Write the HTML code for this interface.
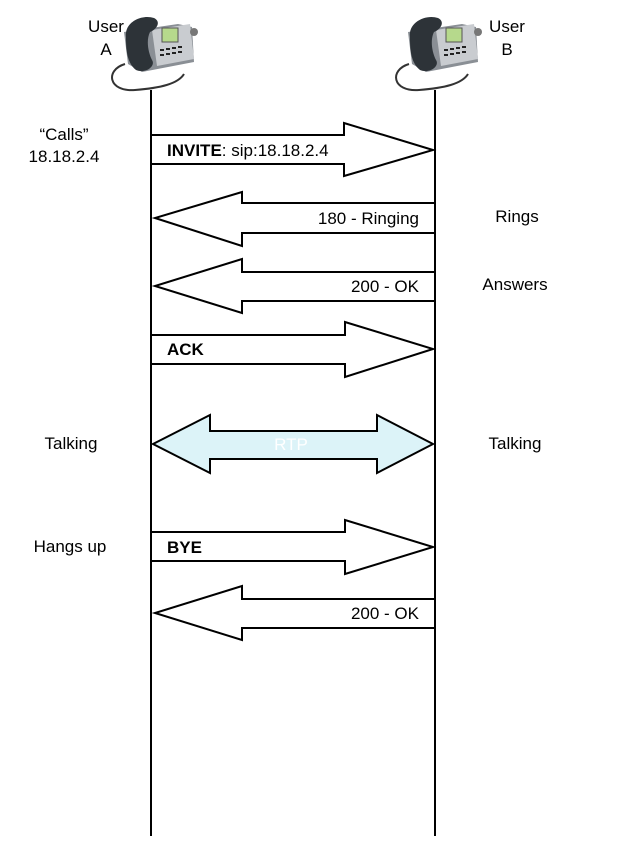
<!DOCTYPE html>
<html><head><style>
body{margin:0;background:#fff;}
svg{display:block;font-family:"Liberation Sans",Arial,sans-serif;}
</style></head><body>
<svg width="625" height="846" viewBox="0 0 625 846">
<defs>
<g id="phone">
<path d="M5 52 C-15 58 -12 80 15 78 C40 76 58 72 64 62" fill="none" stroke="#333" stroke-width="2"/>
<path d="M4 20 L58 12 L72 15 L74 50 L22 60 L8 52 Z" fill="#8a8f95"/>
<path d="M32 18 L70 12 L74 47 L37 54 Z" fill="#c9ccd0"/>
<rect x="42" y="16" width="16" height="14" fill="#b6d98c" stroke="#555"/>
<g fill="#222"><rect x="40" y="37" width="4" height="2"/><rect x="46" y="36" width="4" height="2"/><rect x="52" y="35" width="4" height="2"/><rect x="58" y="34" width="4" height="2"/><rect x="40" y="42" width="4" height="2"/><rect x="46" y="41" width="4" height="2"/><rect x="52" y="40" width="4" height="2"/><rect x="58" y="39" width="4" height="2"/></g>
<path d="M6 25 C4 10 22 2 34 6 C42 10 36 18 30 20 C26 28 28 40 32 48 C36 54 26 62 16 58 C6 50 6 35 6 25 Z" fill="#2d3338"/>
<circle cx="74" cy="20" r="4" fill="#777"/>
</g>
</defs>
<use href="#phone" x="120" y="12"/>
<use href="#phone" x="404" y="12"/>
<g font-size="17" text-anchor="middle" fill="#000">
<text x="106" y="32">User</text><text x="106" y="55">A</text>
<text x="507" y="32">User</text><text x="507" y="55">B</text>
</g>
<line x1="151" y1="90" x2="151" y2="836" stroke="#000" stroke-width="2"/>
<line x1="435" y1="90" x2="435" y2="836" stroke="#000" stroke-width="2"/>
<g fill="#fff" stroke="#000" stroke-width="2" stroke-linejoin="miter">
<polygon points="151,135 344,135 344,123 433,150 344,176 344,164 151,164"/>
<polygon points="435,203 242,203 242,192 155,218 242,246 242,233 435,233"/>
<polygon points="435,272 242,272 242,259 155,286 242,313 242,301 435,301"/>
<polygon points="151,335 345,335 345,322 433,349 345,377 345,364 151,364"/>
<polygon points="153,444 210,415 210,431 377,431 377,415 433,444 377,473 377,459 210,459 210,473" fill="#dcf3f8"/>
<polygon points="151,532 345,532 345,520 433,547 345,574 345,561 151,561"/>
<polygon points="435,599 242,599 242,586 155,613 242,640 242,628 435,628"/>
</g>
<g font-size="17" fill="#000">
<text x="167" y="156"><tspan font-weight="bold">INVITE</tspan>: sip:18.18.2.4</text>
<text x="419" y="224" text-anchor="end">180 - Ringing</text>
<text x="419" y="292" text-anchor="end">200 - OK</text>
<text x="167" y="355" font-weight="bold">ACK</text>
<text x="291" y="450" text-anchor="middle" fill="#fff">RTP</text>
<text x="167" y="553" font-weight="bold">BYE</text>
<text x="419" y="619" text-anchor="end">200 - OK</text>
<text x="64" y="140" text-anchor="middle">“Calls”</text>
<text x="64" y="162" text-anchor="middle">18.18.2.4</text>
<text x="517" y="222" text-anchor="middle">Rings</text>
<text x="515" y="290" text-anchor="middle">Answers</text>
<text x="71" y="449" text-anchor="middle">Talking</text>
<text x="515" y="449" text-anchor="middle">Talking</text>
<text x="70" y="552" text-anchor="middle">Hangs up</text>
</g>
</svg>
</body></html>
